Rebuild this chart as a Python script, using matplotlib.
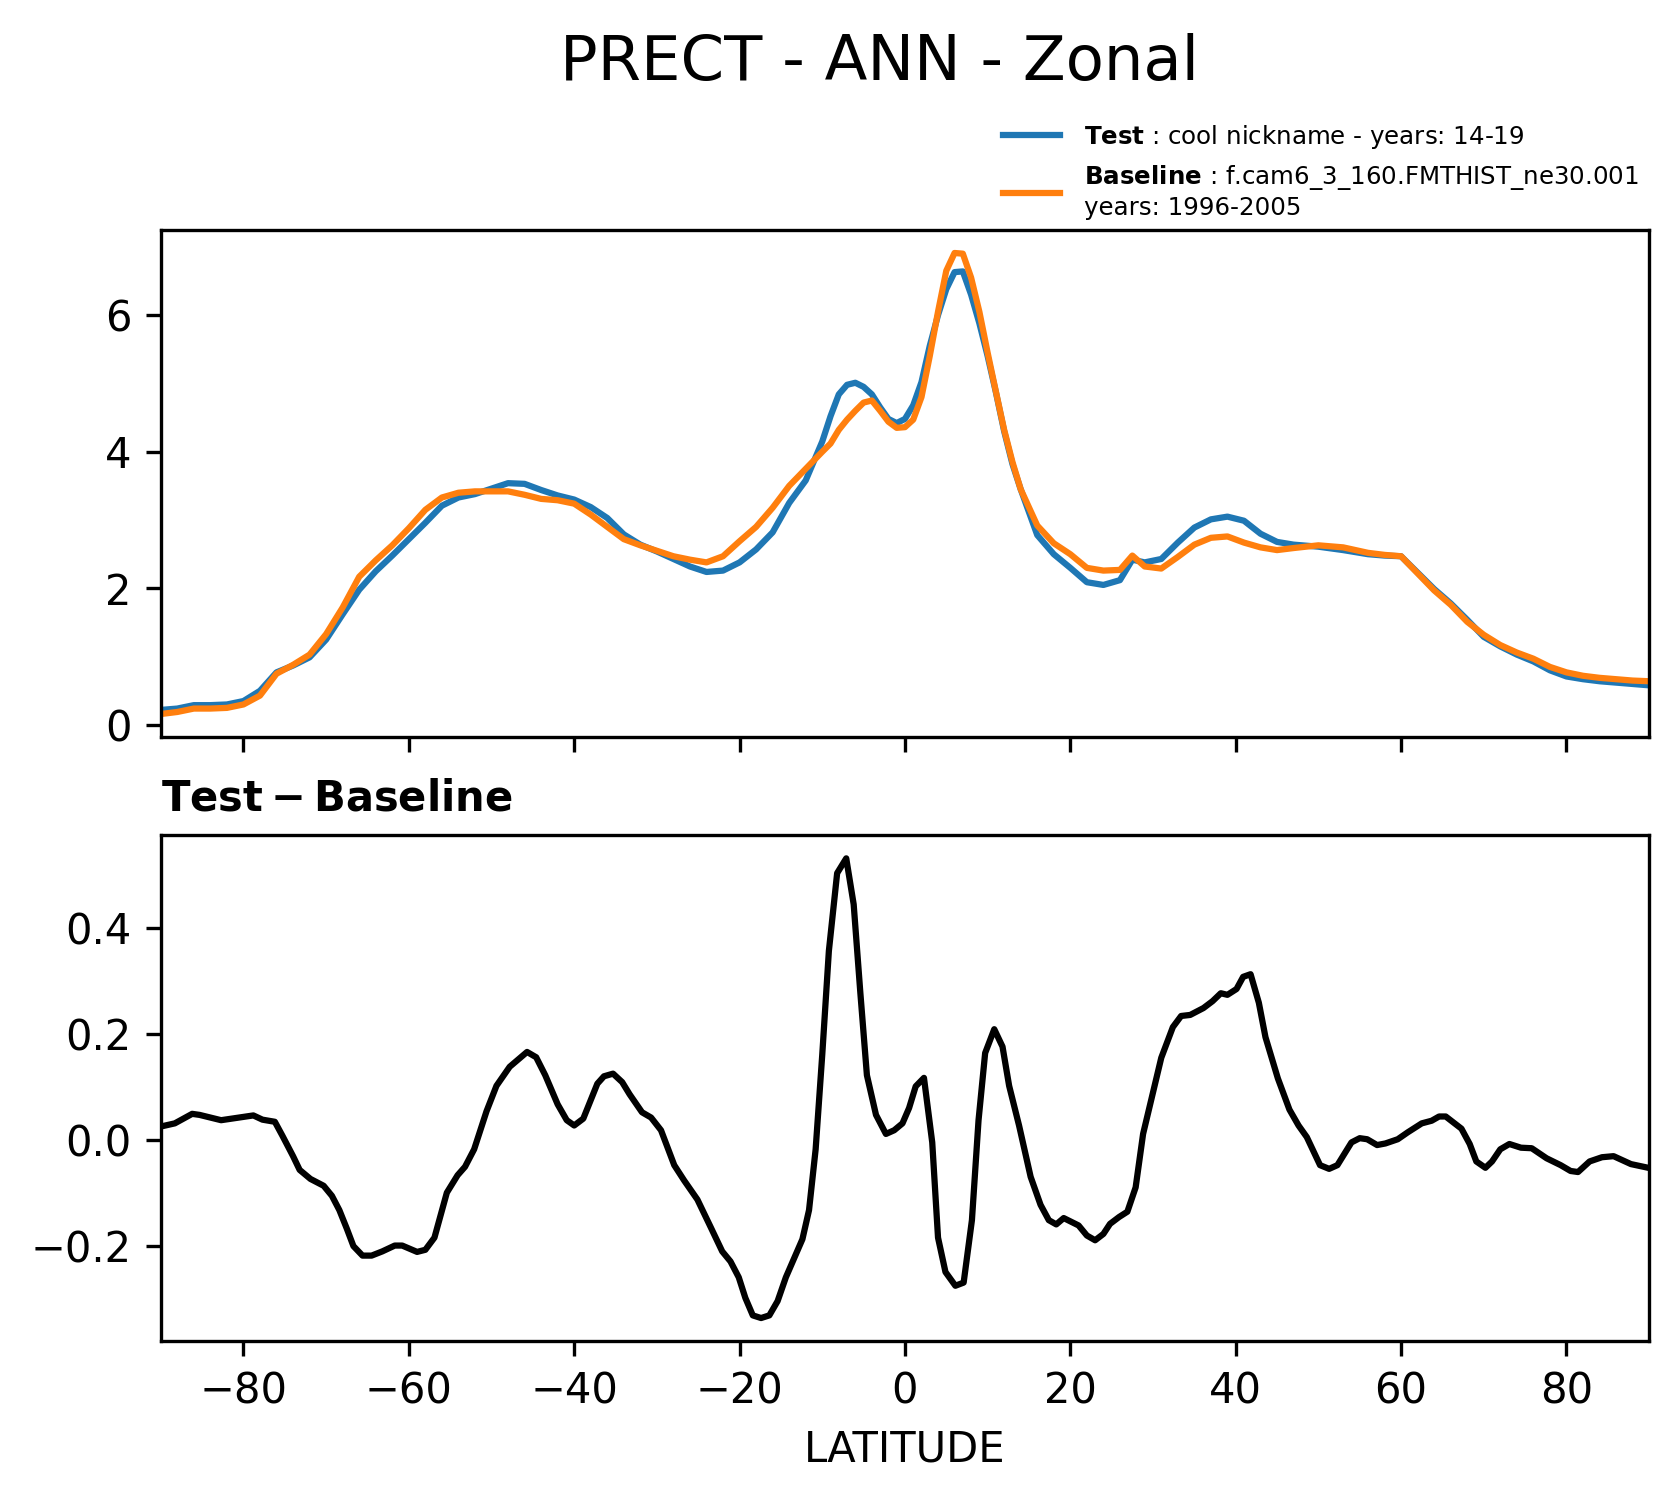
import matplotlib
matplotlib.use('Agg')
import matplotlib.pyplot as plt

# latitudes used for the two zonal mean curves
lat = [-90, -88, -86, -84, -82, -80, -78, -76, -74, -72, -70, -68, -66, -64, -62,
       -60, -58, -56, -54, -52, -50, -48, -46, -44, -42, -40, -38, -36, -34, -32,
       -30, -28, -26, -24, -22, -20, -18, -16, -14, -12, -10, -9, -8, -7, -6, -5,
       -4, -3, -2, -1, 0, 1, 2, 3, 4, 5, 6, 7, 8, 9, 10, 11, 12, 13, 14, 16, 18,
       20, 22, 24, 26, 27.5, 29, 31, 33, 35, 37, 39, 41, 43, 45, 47, 50, 53, 56,
       58, 60, 62, 64, 66, 68, 70, 72, 74, 76, 78, 80, 82, 84, 86, 88, 90]

test = [0.22, 0.24, 0.29, 0.29, 0.30, 0.35, 0.50, 0.77, 0.87, 0.99, 1.25, 1.62, 1.98, 2.25, 2.48,
        2.72, 2.96, 3.21, 3.33, 3.38, 3.46, 3.54, 3.53, 3.44, 3.36, 3.30, 3.19, 3.03, 2.79, 2.64,
        2.54, 2.43, 2.32, 2.24, 2.26, 2.38, 2.57, 2.82, 3.25, 3.58, 4.15, 4.52, 4.84, 4.98, 5.01, 4.95,
        4.84, 4.65, 4.48, 4.42, 4.48, 4.68, 5.02, 5.55, 6.00, 6.38, 6.63, 6.64, 6.30, 5.88, 5.40, 4.87, 4.30, 3.82, 3.45, 2.78, 2.50,
        2.30, 2.09, 2.05, 2.12, 2.42, 2.38, 2.43, 2.67, 2.89, 3.01, 3.05, 2.99, 2.80, 2.68, 2.64, 2.61, 2.56, 2.50,
        2.48, 2.47, 2.23, 1.99, 1.78, 1.54, 1.29, 1.15, 1.03, 0.93, 0.80, 0.71, 0.67, 0.64, 0.62, 0.60, 0.58]

baseline = [0.16, 0.19, 0.24, 0.24, 0.25, 0.30, 0.43, 0.75, 0.88, 1.03, 1.33, 1.72, 2.17, 2.41, 2.63,
            2.88, 3.15, 3.33, 3.40, 3.42, 3.42, 3.42, 3.37, 3.31, 3.29, 3.24, 3.08, 2.90, 2.72, 2.63,
            2.55, 2.47, 2.42, 2.38, 2.47, 2.69, 2.90, 3.18, 3.50, 3.75, 4.00, 4.12, 4.32, 4.47, 4.60, 4.72,
            4.75, 4.60, 4.44, 4.35, 4.36, 4.47, 4.80, 5.40, 6.05, 6.65, 6.91, 6.90, 6.55, 6.05, 5.45, 4.88, 4.32, 3.85, 3.45, 2.92, 2.66,
            2.50, 2.30, 2.26, 2.27, 2.48, 2.32, 2.29, 2.46, 2.64, 2.74, 2.76, 2.67, 2.60, 2.56, 2.59, 2.63, 2.60, 2.52,
            2.49, 2.47, 2.22, 1.97, 1.76, 1.51, 1.32, 1.17, 1.06, 0.97, 0.85, 0.77, 0.72, 0.69, 0.67, 0.65, 0.64]

# test - baseline
diff_lat = [-90, -88.3, -86.2, -85.3, -82.7, -80.5, -78.8, -77.7, -76.2, -75.3, -74.0, -73.2, -71.9,
            -70.3, -69.3, -68.4, -67.5, -66.7, -65.6, -64.5, -63.2, -61.7, -60.8, -59.0, -58.0, -56.9,
            -55.4, -54.1, -53.2, -52.1, -50.6, -49.4, -47.8, -45.7, -44.6, -43.5, -42.0, -40.9, -40.0,
            -38.9, -37.2, -36.4, -35.3, -34.2, -33.3, -31.8, -30.7, -29.5, -27.9, -26.7, -25.1, -23.5,
            -22.1, -21.1, -20.1, -19.3, -18.4, -17.4, -16.4, -15.4, -14.4, -13.4, -12.4, -11.6, -10.8,
            -10.0, -9.2, -8.2, -7.1, -6.2, -5.4, -4.6, -3.5, -2.3, -1.3, -0.3, 0.5, 1.3, 2.3, 3.3, 4.0,
            4.9, 6.1, 7.1, 8.1, 8.9, 9.7, 10.8, 11.8, 12.6, 13.8, 15.2, 16.4, 17.4, 18.3, 19.2, 21.0,
            22.0, 23.0, 24.0, 24.8, 25.9, 26.9, 27.9, 28.8, 29.9, 31.0, 32.4, 33.4, 34.5, 36.1, 37.2,
            38.2, 39.0, 40.1, 40.9, 41.8, 42.8, 43.6, 45.1, 46.5, 47.6, 48.6, 50.2, 51.3, 52.3, 54.0,
            55.0, 55.9, 57.1, 58.1, 59.6, 60.8, 62.5, 63.7, 64.6, 65.4, 67.3, 68.3, 69.1, 70.2, 71.0,
            72.0, 73.1, 74.5, 75.8, 77.6, 79.3, 80.5, 81.4, 82.8, 84.3, 85.7, 87.8, 89.9]

diff = [0.025, 0.031, 0.049, 0.047, 0.037, 0.042, 0.046, 0.038, 0.034, 0.008, -0.031, -0.057, -0.074,
        -0.087, -0.106, -0.133, -0.168, -0.201, -0.219, -0.219, -0.211, -0.200, -0.200, -0.212, -0.208, -0.185,
        -0.100, -0.067, -0.051, -0.018, 0.054, 0.102, 0.138, 0.166, 0.156, 0.122, 0.067, 0.037, 0.027,
        0.040, 0.106, 0.120, 0.125, 0.109, 0.086, 0.052, 0.042, 0.018, -0.048, -0.077, -0.113, -0.165,
        -0.211, -0.230, -0.260, -0.299, -0.332, -0.337, -0.332, -0.305, -0.260, -0.224, -0.188, -0.133, -0.018,
        0.161, 0.357, 0.504, 0.532, 0.445, 0.279, 0.122, 0.047, 0.011, 0.018, 0.031, 0.060, 0.101, 0.117, -0.005, -0.185,
        -0.250, -0.276, -0.270, -0.152, 0.037, 0.164, 0.209, 0.176, 0.102, 0.027, -0.070, -0.123, -0.152, -0.160, -0.148, -0.162,
        -0.181, -0.190, -0.178, -0.159, -0.146, -0.136, -0.090, 0.011, 0.083, 0.155, 0.213, 0.234, 0.236, 0.249, 0.262,
        0.277, 0.274, 0.285, 0.308, 0.313, 0.259, 0.194, 0.116, 0.057, 0.027, 0.005, -0.048, -0.055, -0.048, -0.005,
        0.003, 0.001, -0.010, -0.007, 0.001, 0.014, 0.031, 0.036, 0.044, 0.044, 0.021, -0.008, -0.041, -0.053, -0.041,
        -0.018, -0.008, -0.015, -0.016, -0.035, -0.048, -0.059, -0.061, -0.041, -0.033, -0.031, -0.046, -0.053]

xticks = [-80, -60, -40, -20, 0, 20, 40, 60, 80]

test_label = r'$\bf{Test}$ : cool nickname - years: 14-19'
base_label = '$\\bf{Baseline}$ : f.cam6_3_160.FMTHIST_ne30.001\nyears: 1996-2005'

fig = plt.figure(figsize=(1678 / 300, 1496 / 300), dpi=300)
ax1 = fig.add_axes([0.0958, 0.5073, 0.887, 0.339])
ax2 = fig.add_axes([0.0958, 0.1036, 0.887, 0.338])

ax1.plot(lat, test, color='tab:blue', linewidth=1.5, label=test_label)
ax1.plot(lat, baseline, color='tab:orange', linewidth=1.5, label=base_label)
ax1.set_xlim(-90, 90)
ax1.set_xticks(xticks)
ax1.set_xticklabels([])
ax1.legend(loc='lower right', bbox_to_anchor=(1.0, 1.0), frameon=False,
           fontsize=5.9, handlelength=2.3, handletextpad=1.0, borderaxespad=0.0)

ax2.plot(diff_lat, diff, color='black', linewidth=1.5)
ax2.set_xlim(-90, 90)
ax2.set_xticks(xticks)
ax2.set_title(r'$\bf{Test - Baseline}$', loc='left', fontsize=10)
ax2.set_xlabel('LATITUDE')

fig.suptitle('PRECT - ANN - Zonal', x=0.524, y=0.958, va='center', fontsize=15)

fig.savefig('out.png', dpi=300)
